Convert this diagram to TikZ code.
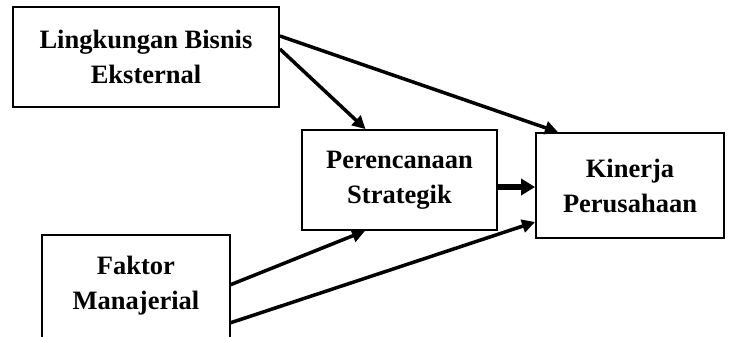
\documentclass[tikz,border=0pt]{standalone}
\usepackage{fontspec}
\setmainfont{Liberation Serif}
\usetikzlibrary{arrows.meta,calc}
\begin{document}
\begin{tikzpicture}[x=1pt,y=-1pt,
  box/.style={draw,line width=1.8pt,inner sep=0pt,align=center,font=\fontsize{26.5}{35}\selectfont\bfseries},
  arr/.style={line width=3.5pt,-{Triangle[length=13pt,width=13pt]}},
  bigarr/.style={line width=5.5pt,-{Triangle[length=14pt,width=16pt]}}]
\useasboundingbox (0,0) rectangle (729,337);
\node[box,minimum width=266pt,minimum height=100pt] (A) at (146,57) {Lingkungan Bisnis\\Eksternal};
\node[box,minimum width=195pt,minimum height=100pt] (C) at (399.5,180) {Perencanaan\\Strategik};
\node[box,minimum width=188pt,minimum height=105pt] (D) at (630,185.5) {Kinerja\\Perusahaan};
\node[box,draw=none,minimum width=186pt,minimum height=100pt] (B) at (136,286) {Faktor\\Manajerial};
\draw[line width=1.8pt] ([yshift=-10pt]B.south west) -- (B.north west) -- (B.north east) -- ([yshift=-10pt]B.south east);
\draw[arr] ([yshift=21pt]A.east) -- ([xshift=-72pt]D.north);
\draw[arr] ([yshift=8pt]A.east) -- ([xshift=-34pt]C.north);
\draw[bigarr] ([yshift=-7pt]C.east) -- ([yshift=-7pt]C.east -| D.west);
\draw[arr] ([yshift=1pt]B.east) -- ([xshift=-34.5pt]C.south);
\draw[arr] ([yshift=-37pt]B.east) -- ([yshift=-36.5pt]D.west);
\end{tikzpicture}
\end{document}
